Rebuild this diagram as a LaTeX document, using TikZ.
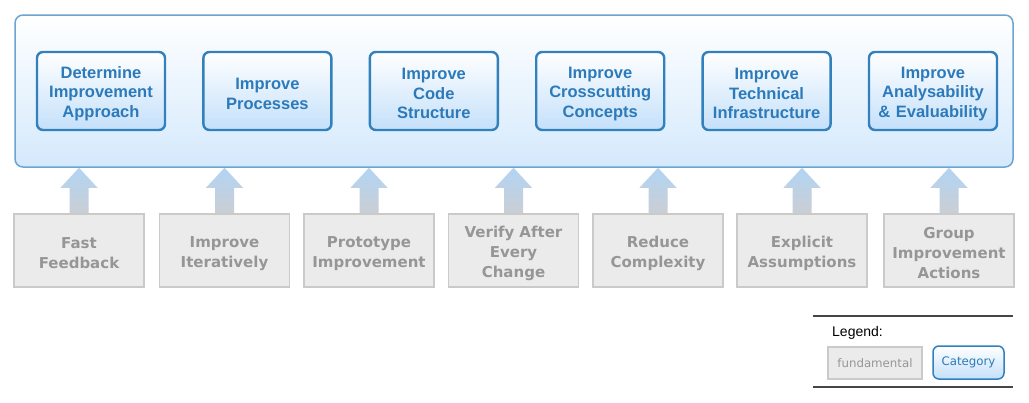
\documentclass[tikz,border=0pt]{standalone}
\usepackage{fontspec}
\setmainfont{Liberation Sans}
\newfontfamily\dvs{DejaVu Sans}
\usetikzlibrary{calc}
\definecolor{catblue}{RGB}{44,122,186}
\definecolor{catborder}{RGB}{50,128,188}
\definecolor{outerborder}{RGB}{108,164,210}
\definecolor{outerbottom}{RGB}{212,233,252}
\definecolor{grayfill}{RGB}{235,235,235}
\definecolor{grayborder}{RGB}{202,202,202}
\definecolor{graytext}{RGB}{150,150,150}
\definecolor{lightblue}{RGB}{196,224,250}
\definecolor{arrowtop}{RGB}{178,212,244}
\definecolor{arrowbottom}{RGB}{202,206,212}
\definecolor{legendline}{RGB}{70,70,70}
\begin{document}
\begin{tikzpicture}[x=1pt,y=-1pt,
  frame/.style={draw=outerborder, line width=1.5pt, rounded corners=8pt, top color=white, bottom color=outerbottom, minimum width=998pt, minimum height=152pt, inner sep=0pt},
  category/.style={draw=catborder, line width=2.4pt, rounded corners=6pt, top color=white, bottom color=lightblue, minimum width=128pt, minimum height=78pt, text width=126pt, text height=17pt, align=center, font=\bfseries\fontsize{16.5}{19.5}\selectfont, text=catblue, inner sep=0pt},
  fundamental/.style={draw=grayborder, line width=1.8pt, fill=grayfill, minimum width=130pt, minimum height=73pt, text width=128pt, text height=17pt, align=center, font=\dvs\bfseries\fontsize{15}{20}\selectfont, text=graytext, inner sep=0pt},
  fatarrow/.style={top color=arrowtop, bottom color=arrowbottom, draw=none},
  legendrule/.style={draw=legendline, line width=2pt},
  legfund/.style={draw=grayborder, line width=1.5pt, fill=grayfill, minimum width=94pt, minimum height=32pt, inner sep=0pt, font=\dvs\fontsize{11.8}{14}\selectfont, text=graytext},
  legcat/.style={draw=catborder, line width=1.5pt, rounded corners=6pt, top color=white, bottom color=lightblue, minimum width=71pt, minimum height=33pt, inner sep=0pt, font=\dvs\fontsize{11.8}{14}\selectfont, text=catblue},
]
\path[use as bounding box, fill=white] (0,0) rectangle (1029,402);

\node[frame] (frame) at (514,91) {};

\node[category] (c1) at (101,91) {Determine\\Improvement\\Approach};
\node[category] (c2) at (267.4,91) {Improve\\Processes};
\node[category] (c3) at (433.8,91) {Improve\\Code\\Structure};
\node[category] (c4) at (600.2,91) {Improve\\Crosscutting\\Concepts};
\node[category] (c5) at (766.6,91) {Improve\\Technical\\Infrastructure};
\node[category] (c6) at (933,91) {Improve\\Analysability\\\& Evaluability};

\node[fundamental] (f1) at (79,250.5) {Fast\\Feedback};
\node[fundamental] (f2) at (224.5,250.5) {Improve\\Iteratively};
\node[fundamental] (f3) at (369,250.5) {Prototype\\Improvement};
\node[fundamental] (f4) at (513.5,250.5) {Verify After\\Every\\Change};
\node[fundamental] (f5) at (658,250.5) {Reduce\\Complexity};
\node[fundamental] (f6) at (802,250.5) {Explicit\\Assumptions};
\node[fundamental] (f7) at (949,250.5) {Group\\Improvement\\Actions};

\foreach \f in {f1,f2,f3,f4,f5,f6,f7}{
  \path[fatarrow] let \p1=(\f.north), \p2=(frame.south) in
    ({\x1-9.5pt},\y1) -- ({\x1-9.5pt},{\y2-20pt}) -- ({\x1-18.5pt},{\y2-20pt})
    -- (\x1,\y2) -- ({\x1+18.5pt},{\y2-20pt}) -- ({\x1+9.5pt},{\y2-20pt})
    -- ({\x1+9.5pt},\y1) -- cycle;
}

\draw[legendrule] (813,316) -- (1013,316);
\draw[legendrule] (813,387) -- (1013,387);
\node[anchor=base west, font=\fontsize{14}{16}\selectfont, inner sep=0pt] (legend) at (832,336) {Legend:};
\node[legfund] (lf) at (875,363) {fundamental};
\node[legcat] (lc) at (968.5,362.5) {Category};
\end{tikzpicture}
\end{document}
